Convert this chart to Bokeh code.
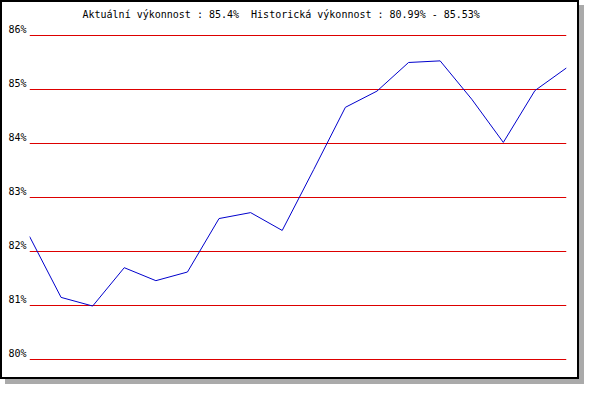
from bokeh.plotting import figure
from bokeh.models import Range1d, FixedTicker, LinearAxis
from bokeh.embed import file_html
from bokeh.resources import INLINE

# ---- data ----
performance = [82.28, 81.15, 80.99, 81.70, 81.46, 81.62, 82.61, 82.72, 82.39,
               83.52, 84.67, 84.97, 85.50, 85.53, 84.82, 84.02, 84.98, 85.40]
sample_index = list(range(len(performance)))
y_ticks = [80, 81, 82, 83, 84, 85, 86]
y_tick_labels = ["80%", "81%", "82%", "83%", "84%", "85%", "86%"]
title_text = "Aktuální výkonnost : 85.4% \u00a0Historická výkonnost : 80.99% - 85.53%"

W, H = 579, 379
Y0, Y1 = 79.889, 86.185
LABEL_SHIFT = 0.115   # tick labels sit a few pixels above their grid line

p = figure(width=W, height=H, output_backend="svg", toolbar_location=None,
           x_axis_location=None, y_axis_location=None,
           x_range=Range1d(0, len(performance) - 1),
           y_range=Range1d(Y0, Y1),
           min_border_left=29, min_border_right=13,
           min_border_top=25, min_border_bottom=14)

# black frame + grey drop shadow around the whole picture
p.styles = {"background-color": "white",
            "box-shadow": "inset 0 0 0 2px #000000, 5px 5px 0 0 #aaaaaa"}

p.background_fill_color = None
p.border_fill_color = None
p.outline_line_color = None

# title
p.title.text = title_text
p.title.text_font = "DejaVu Sans Mono"
p.title.text_font_size = "10px"
p.title.text_font_style = "normal"
p.title.text_color = "black"
p.title.align = "left"
p.title.offset = 53
p.title.standoff = 11

# y axis labels (placed through a slightly shifted range)
p.extra_y_ranges = {"labels": Range1d(Y0 - LABEL_SHIFT, Y1 - LABEL_SHIFT)}
yax = LinearAxis(y_range_name="labels", ticker=FixedTicker(ticks=y_ticks))
yax.major_label_overrides = {t: l for t, l in zip(y_ticks, y_tick_labels)}
yax.axis_line_color = None
yax.major_tick_line_color = None
yax.minor_tick_line_color = None
yax.major_tick_out = 0
yax.major_tick_in = 0
yax.major_label_standoff = 3
yax.major_label_text_font = "DejaVu Sans Mono"
yax.major_label_text_font_size = "10px"
yax.major_label_text_color = "black"
p.add_layout(yax, "left")

p.xgrid.visible = False
p.ygrid.ticker = FixedTicker(ticks=y_ticks)
p.ygrid.grid_line_color = "#dd0000"
p.ygrid.grid_line_width = 1

p.line(sample_index, performance, line_color="#0000cc", line_width=1)

open("out.html", "w").write(file_html(p, INLINE))
